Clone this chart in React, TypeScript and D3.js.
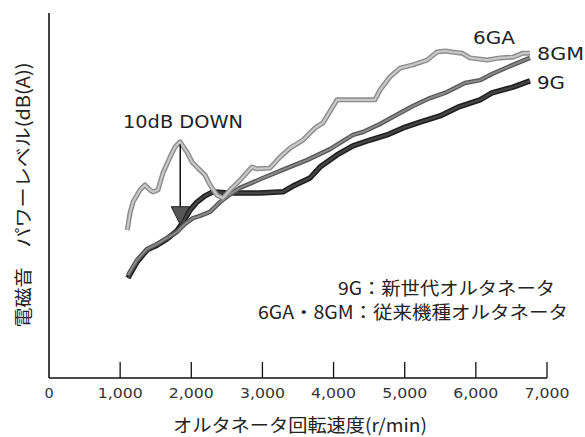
import React from "react";
import * as d3 from "d3";

// x ticks (r/min)
const xTicks = [0, 1000, 2000, 3000, 4000, 5000, 6000, 7000];
const xTickLabels = ["0", "1,000", "2,000", "3,000", "4,000", "5,000", "6,000", "7,000"];

// relative power level (arbitrary 0–100 scale, axis has no values)
const rpm6GA = [1100, 1139, 1181, 1279, 1349, 1420, 1462, 1532, 1602, 1701, 1771, 1841, 1940, 2010, 2094, 2193, 2263, 2361, 2446, 2544, 2685, 2853, 2924, 3106, 3247, 3388, 3570, 3739, 3851, 4048, 4259, 4582, 4653, 4793, 4934, 5116, 5313, 5454, 5566, 5665, 5805, 5918, 6157, 6339, 6522, 6663, 6761];
const lvl6GA = [40.5, 45.2, 48.2, 51.5, 52.9, 51.5, 51.0, 51.5, 56.2, 60.5, 63.3, 64.7, 61.9, 59.2, 57.5, 55.6, 52.9, 50.1, 49.3, 51.5, 54.2, 57.8, 57.3, 57.5, 60.5, 63.0, 65.2, 68.5, 69.9, 76.2, 76.2, 76.2, 78.9, 82.5, 84.9, 85.8, 87.1, 89.3, 89.6, 89.3, 89.0, 87.7, 87.1, 87.7, 87.9, 89.0, 89.0];

const rpm8GM = [1110, 1237, 1377, 1518, 1659, 1799, 1912, 2024, 2122, 2263, 2404, 2516, 2685, 3008, 3345, 3626, 3950, 4273, 4414, 4653, 4934, 5116, 5355, 5566, 5847, 6058, 6227, 6452, 6649, 6761];
const lvl8GM = [28.2, 32.3, 35.3, 36.7, 38.4, 40.0, 42.2, 43.8, 44.4, 45.5, 48.2, 49.9, 52.1, 54.8, 57.5, 59.7, 62.7, 66.6, 67.4, 69.6, 72.6, 74.5, 76.7, 78.1, 80.8, 81.6, 83.3, 85.2, 86.8, 87.7];

const rpm9G = [1110, 1237, 1377, 1518, 1659, 1799, 1884, 1982, 2080, 2193, 2305, 2502, 2685, 2966, 3289, 3430, 3669, 3809, 4048, 4273, 4512, 4751, 4976, 5215, 5496, 5749, 6058, 6227, 6522, 6761];
const lvl9G = [27.4, 31.8, 35.1, 36.4, 38.1, 40.3, 42.7, 46.0, 48.2, 49.9, 51.0, 50.7, 50.7, 50.7, 51.0, 52.6, 54.8, 57.8, 61.1, 63.6, 65.2, 66.6, 68.5, 70.1, 71.8, 74.2, 76.2, 78.1, 79.7, 81.4];

// annotation: arrow from 6GA peak down by "10dB"
const arrowRpm = 1845;
const arrowFrom = 64.0;
const arrowTo = 42.0;

const seriesNames = ["6GA", "8GM", "9G"];
const legendLines = ["9G：新世代オルタネータ", "6GA・8GM：従来機種オルタネータ"];

const FONT = "'Noto Sans CJK JP', 'Noto Sans', sans-serif";
const LATIN = "'DejaVu Sans', 'Noto Sans', sans-serif";

export default function App() {
  const W = 585, H = 437;
  const x = d3.scaleLinear().domain([0, 7000]).range([49, 547]);
  const y = d3.scaleLinear().domain([0, 100]).range([378, 13]);

  const line = d3.line<[number, number]>().x(d => x(d[0])).y(d => y(d[1])).curve(d3.curveLinear);
  const zip = (a: number[], b: number[]) => a.map((v, i) => [v, b[i]] as [number, number]);

  const p6 = line(zip(rpm6GA, lvl6GA)) || "";
  const p8 = line(zip(rpm8GM, lvl8GM)) || "";
  const p9 = line(zip(rpm9G, lvl9G)) || "";

  const ax = x(arrowRpm);
  const ay0 = y(arrowFrom);
  const ay1 = y(arrowTo);

  return (
    <svg width={W} height={H} viewBox={`0 0 ${W} ${H}`}
      style={{ position: "absolute", left: 0, top: 0, background: "#fff", fontFamily: FONT }}>
      {/* axes */}
      <line x1={x(0)} x2={x(0)} y1={y(100)} y2={y(0)} stroke="#111" strokeWidth={1.6} />
      <line x1={x(0)} x2={x(7000)} y1={y(0)} y2={y(0)} stroke="#111" strokeWidth={1.6} />
      {xTicks.map((t, i) => (
        <g key={t}>
          {t > 0 && <line x1={x(t)} x2={x(t)} y1={y(0)} y2={y(0) - 16} stroke="#111" strokeWidth={1.3} />}
          <text x={x(t)} y={398} textAnchor="middle" fontSize={14.5} fill="#333"
            fontFamily={LATIN}
            textLength={t === 0 ? undefined : 45} lengthAdjust="spacingAndGlyphs">{xTickLabels[i]}</text>
        </g>
      ))}
      <text x={300} y={432} textAnchor="middle" fontSize={18} fill="#222"
        textLength={254} lengthAdjust="spacingAndGlyphs">オルタネータ回転速度(r/min)</text>
      <text transform="translate(30,195) rotate(-90)" textAnchor="middle" fontSize={18} fill="#222"
        textLength={265} lengthAdjust="spacingAndGlyphs">電磁音　パワーレベル(dB(A))</text>

      {/* series */}
      <path d={p9} fill="none" stroke="#1e1e1e" strokeWidth={5.5} strokeLinejoin="round" />
      <path d={p9} fill="none" stroke="#444" strokeWidth={2.5} strokeLinejoin="round" />
      <path d={p8} fill="none" stroke="#555" strokeWidth={4.5} strokeLinejoin="round" />
      <path d={p8} fill="none" stroke="#8a8a8a" strokeWidth={2} strokeLinejoin="round" />
      <path d={p6} fill="none" stroke="#8c8c8c" strokeWidth={5} strokeLinejoin="round" />
      <path d={p6} fill="none" stroke="#c8c8c8" strokeWidth={2.2} strokeLinejoin="round" />

      {/* arrow */}
      <line x1={ax} x2={ax} y1={ay0} y2={ay1 - 16} stroke="#111" strokeWidth={1.5} />
      <path d={`M${ax - 9},${ay1 - 18} L${ax + 9},${ay1 - 18} L${ax},${ay1} Z`} fill="#555" stroke="#222" strokeWidth={1} />
      <text x={123} y={128} fontSize={18} fill="#222" fontFamily={LATIN}
        textLength={120} lengthAdjust="spacingAndGlyphs">10dB DOWN</text>

      {/* series labels */}
      <text x={473} y={44} fontSize={18} fill="#222" fontFamily={LATIN}
        textLength={42} lengthAdjust="spacingAndGlyphs">{seriesNames[0]}</text>
      <text x={537} y={60} fontSize={18} fill="#222" fontFamily={LATIN}
        textLength={47} lengthAdjust="spacingAndGlyphs">{seriesNames[1]}</text>
      <text x={537} y={89} fontSize={18} fill="#222" fontFamily={LATIN}
        textLength={28} lengthAdjust="spacingAndGlyphs">{seriesNames[2]}</text>

      {/* legend notes */}
      <text x={338} y={295} fontSize={18} fill="#222"
        textLength={217} lengthAdjust="spacingAndGlyphs">{legendLines[0]}</text>
      <text x={258} y={319} fontSize={18} fill="#222"
        textLength={310} lengthAdjust="spacingAndGlyphs">{legendLines[1]}</text>
    </svg>
  );
}
